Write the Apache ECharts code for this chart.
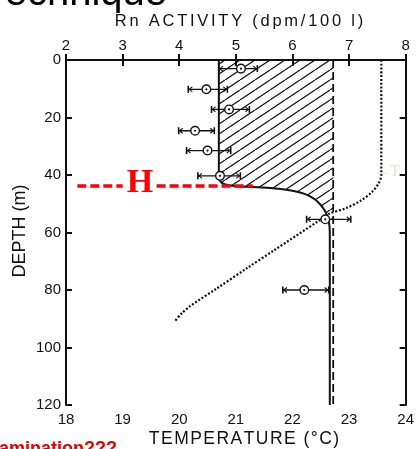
<!DOCTYPE html>
<html><head><meta charset="utf-8">
<script src="https://cdn.jsdelivr.net/npm/echarts@6/dist/echarts.min.js"></script>
<style>html,body{margin:0;padding:0;background:#fff}#c{width:417px;height:449px}</style>
</head><body><div id="c"></div>
<script>
// ---- data ----
const rnRange = [2, 8];
const tempRange = [18, 24];
const depthRange = [0, 120];
// Rn measurements
const rnDepth = [3, 10.2, 17.2, 24.6, 31.5, 40.3, 55.4, 80];
const rnValue = [5.09, 4.48, 4.88, 4.28, 4.50, 4.72, 6.58, 6.21];
const rnLow   = [4.70, 4.16, 4.57, 3.99, 4.13, 4.33, 6.25, 5.83];
const rnHigh  = [5.38, 4.85, 5.24, 4.62, 4.91, 5.08, 7.03, 6.64];
// model Rn profile (solid)
const profileDepth = [0, 40, 41.5, 42.5, 43.2, 43.6, 43.9, 44.2, 44.6, 45.2, 46, 47, 48.5, 50, 52, 54, 56, 58, 61, 65, 120];
const profileRn    = [4.70, 4.70, 4.71, 4.74, 4.80, 4.88, 5.00, 5.30, 5.65, 5.92, 6.12, 6.27, 6.40, 6.48, 6.56, 6.61, 6.64, 6.655, 6.66, 6.66, 6.66];
// equilibrium (dashed)
const equilibriumRn = 6.72;
const hatchBottomDepth = 58;
// temperature (dotted)
const tempDepth = [0, 40, 43, 46, 49, 51.5, 53.5, 56, 66, 72.5, 79.5, 85.5, 88, 90.7];
const tempValue = [23.57, 23.57, 23.52, 23.40, 23.20, 22.95, 22.65, 22.46, 21.69, 21.19, 20.66, 20.20, 20.05, 19.93];
const mixedLayerDepth = 43.8;

// spaced-out lettering like the original drawing
function spaced(s, sep){ return s.split('').join(sep); }

// hatch pattern
function makeHatch(){
  const w = 15, h = 10;
  const cv = document.createElement('canvas');
  cv.width = w; cv.height = h;
  const ctx = cv.getContext('2d');
  ctx.strokeStyle = '#111'; ctx.lineWidth = 1.2;
  ctx.beginPath();
  ctx.moveTo(0, h); ctx.lineTo(w, 0);
  ctx.moveTo(-w, h); ctx.lineTo(0, 0);
  ctx.moveTo(w, h); ctx.lineTo(2*w, 0);
  ctx.stroke();
  return cv;
}
const hatch = makeHatch();

const chart = echarts.init(document.getElementById('c'));
const axisFont = {fontFamily: 'Liberation Sans', fontSize: 15, color: '#111'};
const axisLine = {show: true, lineStyle: {color: '#111', width: 2}};
const axisTick = {show: true, inside: true, length: 6, lineStyle: {color: '#111', width: 2}};

chart.setOption({
  animation: false,
  backgroundColor: '#fff',
  grid: {left: 66, right: 7, top: 60, bottom: 44, containLabel: false},
  xAxis: [
    {type: 'value', position: 'top', min: rnRange[0], max: rnRange[1], interval: 1,
     axisLine, axisTick, splitLine: {show: false},
     axisLabel: Object.assign({margin: 7}, axisFont)},
    {type: 'value', position: 'bottom', min: tempRange[0], max: tempRange[1], interval: 1,
     axisLine, axisTick, splitLine: {show: false},
     axisLabel: Object.assign({margin: 7}, axisFont)}
  ],
  yAxis: [
    {type: 'value', inverse: true, min: depthRange[0], max: depthRange[1], interval: 20,
     position: 'left', axisLine, axisTick, splitLine: {show: false},
     axisLabel: Object.assign({margin: 5}, axisFont)},
    {type: 'value', inverse: true, min: depthRange[0], max: depthRange[1], interval: 20,
     position: 'right', axisLine, axisTick, splitLine: {show: false},
     axisLabel: {show: false}}
  ],
  series: [
    {type: 'custom', xAxisIndex: 0, yAxisIndex: 0, silent: true, z: 1,
     data: [[0]],
     renderItem: function(params, api){
       const pts = [];
       for (let i = 0; i < profileDepth.length; i++){
         if (profileDepth[i] <= hatchBottomDepth) pts.push(api.coord([profileRn[i], profileDepth[i]]));
       }
       pts.push(api.coord([equilibriumRn, hatchBottomDepth]));
       pts.push(api.coord([equilibriumRn, 0]));
       return {type: 'polygon', shape: {points: pts},
               style: {fill: {image: hatch, repeat: 'repeat'}, stroke: null}};
     }},
    {type: 'line', xAxisIndex: 0, yAxisIndex: 0, symbol: 'none', smooth: 0.3, z: 3,
     data: profileRn.map((v, i) => [v, profileDepth[i]]),
     lineStyle: {color: '#111', width: 2}},
    {type: 'line', xAxisIndex: 0, yAxisIndex: 0, symbol: 'none', z: 3,
     data: [[equilibriumRn, depthRange[0]], [equilibriumRn, depthRange[1]]],
     lineStyle: {color: '#111', width: 1.8, type: [8, 4]}},
    {type: 'line', xAxisIndex: 1, yAxisIndex: 0, symbol: 'none', smooth: 0.3, z: 3,
     data: tempValue.map((v, i) => [v, tempDepth[i]]),
     lineStyle: {color: '#111', width: 2.2, type: [2, 1.8]}},
    {type: 'custom', xAxisIndex: 0, yAxisIndex: 0, z: 5,
     data: rnValue.map((v, i) => [v, rnDepth[i], rnLow[i], rnHigh[i]]),
     renderItem: function(params, api){
       const y = api.value(1);
       const c = api.coord([api.value(0), y]);
       const lo = api.coord([api.value(2), y]);
       const hi = api.coord([api.value(3), y]);
       const cap = 3.5;
       const st = {stroke: '#111', lineWidth: 1.3};
       return {type: 'group', children: [
         {type: 'line', shape: {x1: lo[0], y1: lo[1], x2: hi[0], y2: hi[1]}, style: st},
         {type: 'line', shape: {x1: lo[0], y1: lo[1]-cap, x2: lo[0], y2: lo[1]+cap}, style: {stroke: '#111', lineWidth: 1.6}},
         {type: 'line', shape: {x1: hi[0], y1: hi[1]-cap, x2: hi[0], y2: hi[1]+cap}, style: {stroke: '#111', lineWidth: 1.6}},
         {type: 'polyline', shape: {points: [[lo[0]+4, lo[1]-2.5], [lo[0]+1, lo[1]], [lo[0]+4, lo[1]+2.5]]}, style: {stroke: '#111', lineWidth: 1.1, fill: null}},
         {type: 'polyline', shape: {points: [[hi[0]-4, hi[1]-2.5], [hi[0]-1, hi[1]], [hi[0]-4, hi[1]+2.5]]}, style: {stroke: '#111', lineWidth: 1.1, fill: null}},
         {type: 'circle', shape: {cx: c[0], cy: c[1], r: 4.3}, style: {fill: '#fff', stroke: '#111', lineWidth: 1.4}},
         {type: 'circle', shape: {cx: c[0], cy: c[1], r: 1.1}, style: {fill: '#111'}}
       ]};
     }},
    {type: 'line', xAxisIndex: 0, yAxisIndex: 0, symbol: 'none', z: 6, silent: true,
     data: [],
     markLine: {silent: true, symbol: 'none', label: {show: false},
       lineStyle: {color: '#ff0000', width: 3.5, type: [9, 4]},
       data: [
         [{coord: [2.2, mixedLayerDepth]}, {coord: [3.0, mixedLayerDepth]}],
         [{coord: [3.6, mixedLayerDepth]}, {coord: [5.3, mixedLayerDepth]}]
       ]}}
  ],
  graphic: [
    {type: 'text', x: 167, y: 14, style: {text: 'Technique', font: '40px "Liberation Sans"', fill: '#000', align: 'right', verticalAlign: 'bottom'}},
    {type: 'text', x: 239, y: 21, style: {text: spaced('Rn ACTIVITY (dpm/100 l)', '\u2006'), font: '16.5px "Liberation Sans"', fill: '#111', align: 'center', verticalAlign: 'middle'}},
    {type: 'text', x: 244, y: 439, style: {text: spaced('TEMPERATURE (°C)', '\u200A'), font: '17.5px "Liberation Sans"', fill: '#111', align: 'center', verticalAlign: 'middle'}},
    {type: 'text', x: 20, y: 231, rotation: Math.PI/2, style: {text: 'DEPTH (m)', font: '18px "Liberation Sans"', fill: '#111', align: 'center', verticalAlign: 'middle'}},
    {type: 'text', x: 140, y: 183, style: {text: 'H', font: 'bold 34px "Liberation Serif"', fill: '#ff0000', align: 'center', verticalAlign: 'middle'}},
    {type: 'text', x: 387, y: 172, style: {text: '←T', font: '16px "Liberation Serif"', fill: '#e9e2cc', align: 'center', verticalAlign: 'middle'}},
    {type: 'text', x: 117, y: 440, style: {text: 'Contamination???', font: 'bold 18px "Liberation Sans"', fill: '#e00000', align: 'right', verticalAlign: 'top'}, z: 10}
  ]
});
</script>
</body></html>
